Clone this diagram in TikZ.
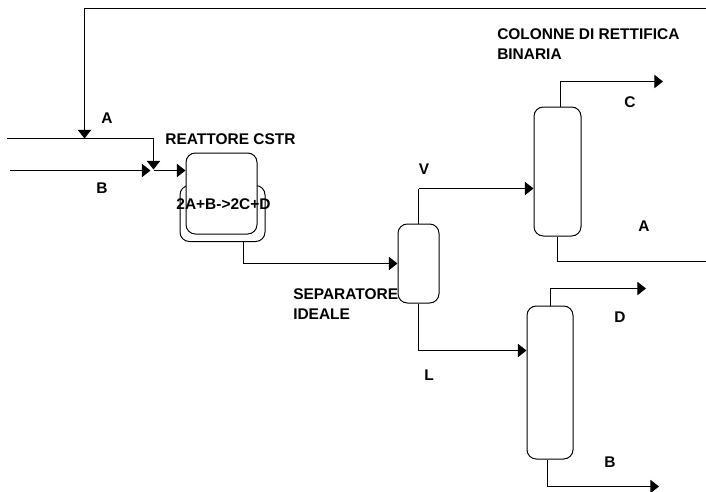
\documentclass[tikz,border=0pt]{standalone}
\usepackage{fontspec}
\setmainfont{Liberation Sans}
\usetikzlibrary{positioning, arrows.meta, calc}
\tikzset{
    flow/.style={line width=0.75pt, -{Triangle[length=6.5pt,width=10pt]}},
    pipe/.style={line width=0.75pt},
    vessel/.style={draw, line width=0.75pt, fill=white, rounded corners=7pt, inner sep=0pt},
    lab/.style={inner sep=0pt, font=\fontsize{11.6pt}{15.6pt}\selectfont\bfseries},
    note/.style={lab, align=left, anchor=north west}
}

\begin{document}
\begin{tikzpicture}[x=0.75pt, y=-0.75pt]
        \useasboundingbox (0,0) rectangle (706,492);

        % 1. Vessels
        \node[vessel, minimum width=63.75pt, minimum height=42pt] (jacket) at (222.5,213.5) {};
        \node[vessel, minimum width=53.25pt, minimum height=60.75pt] (reactor) at (221.5,193.5) {};
        \node[vessel, minimum width=30.75pt, minimum height=59.25pt] (separator) at (418.5,263.5) {};
        \node[vessel, minimum width=35.25pt, minimum height=96.75pt] (columnone) at (557.5,171.5) {};
        \node[vessel, minimum width=34.5pt, minimum height=114.75pt] (columntwo) at (550,382.5) {};

        % 2. Free ends of the streams
        \coordinate (feedA) at (7,138.5);
        \coordinate (feedB) at (10,170.5);
        \coordinate (mixer) at (153.5,170.5);
        \coordinate (recycle) at (84.5,138.5);
        \coordinate (recyclestart) at (706,8.5);
        \coordinate (recycleend) at (706,261.5);
        \coordinate (topV) at (418.5,188.5);
        \coordinate (botL) at (418.5,350.5);
        \coordinate (topC) at (663,81.5);
        \coordinate (topD) at (646,288.5);
        \coordinate (botB) at (659,486.5);

        % 3. Feeds to the reactor
        \draw[flow] (recyclestart) -| (recycle);
        \draw[flow] (feedA) -| ($(mixer)+(0,-1)$);
        \draw[flow] (feedB) -- ($(mixer)+(-3,0)$);
        \draw[flow] (mixer) -- (reactor.west |- mixer);

        % 4. Reactor to separator
        \draw[flow] ($(jacket.south)+(20.5,0)$) |- (separator.west);

        % 5. Separator to columns
        \draw[pipe] (separator.north) -- (topV);
        \draw[flow] (topV) -- (columnone.west |- topV);
        \draw[pipe] (separator.south) -- (botL);
        \draw[flow] (botL) -- (columntwo.west |- botL);

        % 6. Column products
        \draw[flow] ($(columnone.north)+(2.5,0)$) |- (topC);
        \draw[flow] (columntwo.north) |- (topD);
        \draw[flow] ($(columntwo.south)+(-3,0)$) |- (botB);
        \draw[pipe] (columnone.south) |- (recycleend);

        % 7. Labels
        \node[lab] (labA) at (107,118) {A};
        \node[lab] (labB) at (102,188) {B};
        \node[lab] (labreactor) at (230.5,139) {REATTORE CSTR};
        \node[lab] (labreaction) at (223.5,204) {2A+B->2C+D};
        \node[lab] (labV) at (424,169) {V};
        \node[lab] (labL) at (429,375) {L};
        \node[lab] (labC) at (630,102) {C};
        \node[lab] (labAout) at (644,226) {A};
        \node[lab] (labD) at (620,317) {D};
        \node[lab] (labBout) at (610,462) {B};
        \node[note] (labseparator) at (293,288) {SEPARATORE\\IDEALE};
        \node[note] (labcolumns) at (497,28) {COLONNE DI RETTIFICA\\BINARIA};

\end{tikzpicture}
\end{document}
